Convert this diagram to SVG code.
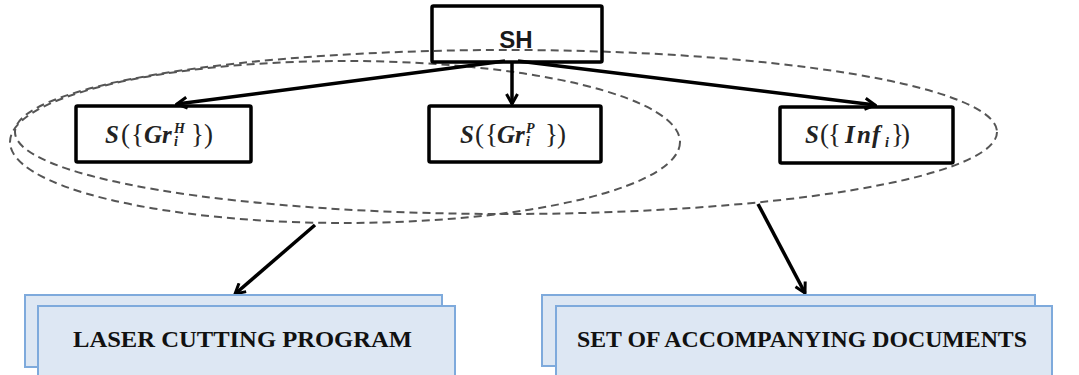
<svg xmlns="http://www.w3.org/2000/svg" width="1079" height="375" viewBox="0 0 1079 375">
  <style>
    .box { fill: none; stroke: #000; stroke-width: 3.5; }
    .doc { fill: #dde7f3; stroke: #7eaadc; stroke-width: 2; }
    .ring { fill: none; stroke: #555; stroke-width: 2; stroke-dasharray: 8 5; }
    .edge { fill: none; stroke: #000; stroke-width: 3.5; }
    .sans { font-family: "Liberation Sans", Arial, sans-serif; font-weight: bold; font-size: 24px; fill: #1a1a1a; }
    .math { font-family: "Liberation Serif", "Times New Roman", serif; font-style: italic; font-weight: bold; font-size: 25px; fill: #222; }
    .br { font-style: normal; font-weight: normal; font-size: 27px; }
    .idx { font-size: 14px; }
    .cap { font-family: "Liberation Serif", "Times New Roman", serif; font-weight: bold; font-size: 24px; fill: #111; }
  </style>
  <defs>
    <marker id="arrow" viewBox="0 0 14 14" refX="12" refY="7" markerWidth="14" markerHeight="14" markerUnits="userSpaceOnUse" orient="auto">
      <path d="M2,1.5 L12,7 L2,12.5" fill="none" stroke="#000" stroke-width="3" stroke-linejoin="miter"/>
    </marker>
  </defs>
  <rect width="1079" height="375" fill="#fff"/>

  <!-- dashed groupings -->
  <g id="groupings">
    <ellipse class="ring" cx="506" cy="132" rx="491" ry="82"/>
    <ellipse class="ring" cx="345" cy="142" rx="335" ry="81"/>
  </g>

  <!-- connectors -->
  <g id="connectors">
    <path class="edge" d="M505,61 L177,104" marker-end="url(#arrow)"/>
    <path class="edge" d="M512,61 L512,104" marker-end="url(#arrow)"/>
    <path class="edge" d="M518,61 L875,105" marker-end="url(#arrow)"/>
    <path class="edge" d="M315,225 L235,294" marker-end="url(#arrow)"/>
    <path class="edge" d="M758,204 L805,293" marker-end="url(#arrow)"/>
  </g>

  <!-- root -->
  <g id="node-sh">
    <rect class="box" x="432" y="6" width="170" height="56" rx="1.5"/>
    <text class="sans" x="516" y="48" text-anchor="middle">SH</text>
  </g>

  <g id="node-gr-h">
    <rect class="box" x="76" y="106" width="175" height="56" rx="1.5"/>
    <text class="math" y="143"><tspan x="105">S</tspan><tspan class="br" x="121 131">({</tspan><tspan x="144 162">Gr</tspan><tspan class="idx" x="174" y="133">H</tspan><tspan class="idx" x="174" y="146">i</tspan><tspan class="br" x="191 204" y="143">})</tspan></text>
  </g>

  <g id="node-gr-p">
    <rect class="box" x="429" y="106" width="172" height="56" rx="1.5"/>
    <text class="math" y="143"><tspan x="460">S</tspan><tspan class="br" x="475 485">({</tspan><tspan x="497 515">Gr</tspan><tspan class="idx" x="526" y="133">P</tspan><tspan class="idx" x="526" y="146">i</tspan><tspan class="br" x="545 557" y="143">})</tspan></text>
  </g>

  <g id="node-inf">
    <rect class="box" x="780" y="107" width="173" height="56" rx="1.5"/>
    <text class="math" y="143"><tspan x="805">S</tspan><tspan class="br" x="820 828">({</tspan><tspan x="845 857 872">Inf</tspan><tspan class="idx" x="885" y="147">i</tspan><tspan class="br" x="891 901" y="143">})</tspan></text>
  </g>

  <g id="node-laser">
    <rect class="doc" x="25" y="295" width="417" height="72"/>
    <rect class="doc" x="38" y="306" width="417" height="80"/>
    <text class="cap" x="73" y="347" textLength="339" lengthAdjust="spacingAndGlyphs">LASER CUTTING PROGRAM</text>
  </g>

  <g id="node-docs">
    <rect class="doc" x="542" y="295" width="493" height="71"/>
    <rect class="doc" x="556" y="306" width="496" height="80"/>
    <text class="cap" x="577" y="347" textLength="450" lengthAdjust="spacingAndGlyphs">SET OF ACCOMPANYING DOCUMENTS</text>
  </g>
</svg>
